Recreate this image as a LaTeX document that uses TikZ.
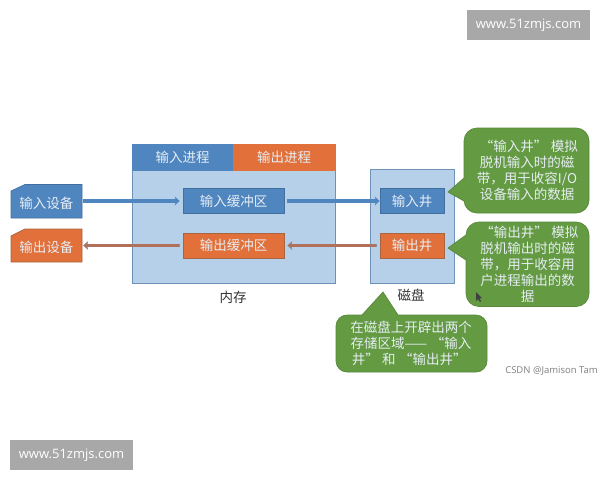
\documentclass[tikz,border=0pt]{standalone}
\usepackage{fontspec}
\setmainfont{Noto Sans CJK SC}
\newfontfamily\latinfont{Open Sans}
\usetikzlibrary{arrows.meta}
\definecolor{cblue}{HTML}{4F86C0}
\definecolor{cblueline}{HTML}{41709F}
\definecolor{corange}{HTML}{E2703A}
\definecolor{corangeline}{HTML}{A8653F}
\definecolor{clight}{HTML}{B7D0E9}
\definecolor{clightline}{HTML}{6F93B8}
\definecolor{cgreen}{HTML}{639A42}
\definecolor{cgreenline}{HTML}{578A3A}
\definecolor{cbrown}{HTML}{B0705A}
\definecolor{cbrownback}{HTML}{8F8C9C}
\definecolor{cpale}{HTML}{E6EDF3}
\definecolor{cmark}{HTML}{A8A8A8}
\newcommand{\oq}{\hspace*{3.5pt}“}
\newcommand{\cq}{”\hspace*{3.5pt}}
\tikzset{
  x=1pt,y=-1pt,
  box/.style={draw,line width=.7pt,minimum width=#1,inner sep=0pt,text=cpale,font=\fontsize{13.5}{16}\selectfont},
  bluebox/.style={box=101pt,fill=cblue,draw=cblueline,minimum height=25pt},
  orangebox/.style={box=101pt,fill=corange,draw=corangeline,minimum height=25pt},
  panel/.style={fill=clight,draw=clightline,line width=.7pt},
  devtext/.style={inner sep=0pt,minimum width=71pt,minimum height=33pt,text=cpale,font=\fontsize{13.5}{16}\selectfont},
  inarrow/.style={draw=cblue,line width=3.4pt,-{Stealth[length=5pt,width=9pt]}},
  outback/.style={draw=cbrownback,line width=3.8pt,-{Stealth[length=5pt,width=9pt]}},
  outarrow/.style={draw=cbrown,line width=2.4pt,-{Stealth[length=4pt,width=6.5pt]}},
  callout/.style={fill=cgreen,draw=cgreenline,line width=.7pt},
  calltext/.style={align=center,inner sep=0pt,text=cpale,font=\fontsize{13.5}{16}\selectfont},
  caption/.style={inner sep=0pt,text=black!80,font=\fontsize{13.5}{16}\selectfont},
  markbox/.style={fill=cmark,inner sep=0pt,text=white,font=\latinfont\fontsize{13}{15}\selectfont},
}
\begin{document}
\begin{tikzpicture}
\useasboundingbox (0,0) rectangle (600,480);
% panels
\fill[white] (0,0) rectangle (600,480);
\draw[panel] (132,170) rectangle (335,283);
\draw[panel] (370,169) rectangle (454,283);
% process header
\node[box=101pt,fill=cblue,draw=cblue,minimum height=26pt] (inproc) at (182.5,157) {输入进程};
\node[box=102pt,fill=corange,draw=corange,minimum height=26pt] (outproc) at (284,157) {输出进程};
% devices
\draw[fill=cblue,draw=cblueline,line width=.7pt] (11,191) -- (25,184.5) -- (82,184.5) -- (82,218) -- (11,218) -- cycle;
\draw[fill=corange,draw=corangeline,line width=.7pt] (11,236) -- (25,229) -- (82,229) -- (82,262) -- (11,262) -- cycle;
\node[devtext] (indev) at (46.5,203) {输入设备};
\node[devtext] (outdev) at (46.5,247.5) {输出设备};
% buffers
\node[bluebox] (inbuf) at (233.5,201) {输入缓冲区};
\node[orangebox] (outbuf) at (233.5,245.5) {输出缓冲区};
% wells
\node[box=64pt,fill=cblue,draw=cblueline,minimum height=25pt] (inwell) at (412,201) {输入井};
\node[box=64pt,fill=corange,draw=corangeline,minimum height=25pt] (outwell) at (412,245.5) {输出井};
% arrows
\draw[inarrow,shorten <=1pt,shorten >=3pt] (indev.east |- inbuf.west) -- (inbuf.west);
\draw[inarrow,shorten <=3pt,shorten >=0pt] (inbuf.east) -- (inwell.west);
\draw[outback,shorten <=3pt,shorten >=1pt] (outbuf.west) -- (outbuf.west -| outdev.east);
\draw[outarrow,shorten <=3.5pt,shorten >=1.7pt] (outbuf.west) -- (outbuf.west -| outdev.east);
\draw[outback,shorten <=3pt,shorten >=3pt] (outwell.west) -- (outbuf.east);
\draw[outarrow,shorten <=3.5pt,shorten >=3.7pt] (outwell.west) -- (outbuf.east);
% captions
\node[caption] (memlabel) at (233,297) {内存};
\node[caption] (disklabel) at (411,295) {磁盘};
% callouts
\draw[callout] (448,192) -- (464,178) [rounded corners=13pt] -- (464,128) -- (589,128) -- (589,213) -- (464,213) [sharp corners] -- (464,201) -- cycle;
\draw[callout] (448,248) -- (466,235) [rounded corners=13pt] -- (466,222) -- (589,222) -- (589,306.5) -- (466,306.5) [sharp corners] -- (466,260) -- cycle;
\draw[callout] (383,292) -- (398,315) [rounded corners=11pt] -- (487,315) -- (487,372) -- (336,372) -- (336,315) [sharp corners] -- (362,315) -- cycle;
\node[calltext] (calla) at (527,170.5) {\oq 输入井\cq 模拟\\脱机输入时的磁\\带，用于收容I/O\\设备输入的数据};
\node[calltext] (callb) at (527.5,264) {\oq 输出井\cq 模拟\\脱机输出时的磁\\带，用于收容用\\户进程输出的数\\据};
\node[calltext] (callc) at (411,343.5) {在磁盘上开辟出两个\\存储区域——\oq 输入\\井\cq 和\oq 输出井\cq};
% cursor
\fill[black!75] (476,292) -- (476,301) -- (478,299) -- (480,302) -- (481,301) -- (479.5,298.5) -- (482,298) -- cycle;
% watermarks
\node[markbox,minimum width=123pt,minimum height=30pt] (marka) at (528.5,25) {www.51zmjs.com};
\node[markbox,minimum width=123pt,minimum height=30pt] (markb) at (71.5,455) {www.51zmjs.com};
\node[inner sep=0pt,text=black!50,anchor=east,font=\latinfont\fontsize{9.5}{11}\selectfont] (csdn) at (598,371) {CSDN @Jamison Tam};
\end{tikzpicture}
\end{document}
